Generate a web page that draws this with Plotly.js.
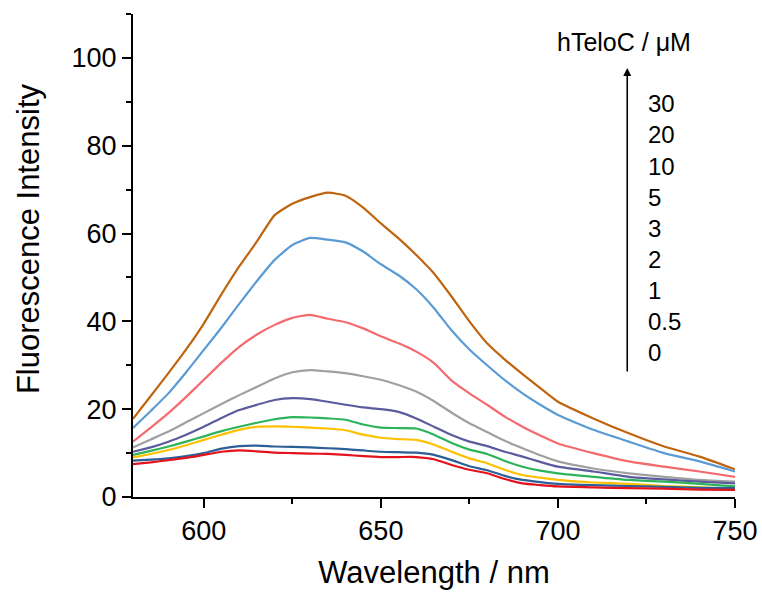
<!DOCTYPE html>
<html>
<head>
<meta charset="utf-8">
<script src="https://cdn.plot.ly/plotly-3.0.1.min.js"></script>
<style>
  html, body { margin: 0; padding: 0; background: #ffffff; }
  #chart { width: 762px; height: 593px; }
</style>
</head>
<body>
<div id="chart"></div>
<script>
// Wavelength grid (nm)
const wavelength = [580,585,590,595,600,605,610,615,620,625,630,635,640,645,650,655,660,665,670,675,680,685,690,695,700,710,720,730,740,750];

// Fluorescence intensity for each hTeloC concentration (µM)
const conc30  = [17.8,23.0,28.2,33.6,39.5,46.2,52.5,58.2,64.2,66.8,68.3,69.3,68.6,65.9,62.3,58.9,55.1,50.9,45.6,40.0,35.0,31.3,28.0,24.8,21.7,17.9,14.5,11.5,9.2,6.3];
const conc20  = [15.7,19.6,23.6,28.4,33.5,38.6,44.0,49.2,54.0,57.4,59.0,58.6,58.0,55.9,53.0,50.5,47.3,43.0,37.9,33.6,30.0,26.6,23.6,21.0,18.7,15.3,12.6,10.0,8.1,5.8];
const conc10  = [12.6,15.8,19.1,22.8,26.7,30.6,34.2,37.0,39.2,40.8,41.5,40.6,39.8,38.4,36.6,35.0,33.1,30.5,26.5,23.6,21.0,18.3,16.0,14.0,12.2,10.0,8.1,6.9,5.8,4.6];
const conc5   = [11.3,13.1,14.9,17.0,19.1,21.2,23.2,25.1,27.0,28.4,28.9,28.6,28.2,27.5,26.7,25.5,24.0,21.8,19.2,16.8,14.8,12.8,11.1,9.5,8.1,6.5,5.4,4.6,3.9,3.5];
const conc3   = [10.3,11.3,12.6,14.2,16.0,18.0,19.8,21.0,22.1,22.5,22.3,21.7,21.0,20.4,20.0,19.4,17.9,16.0,14.1,12.6,11.6,10.3,9.2,8.0,6.9,5.8,4.6,4.0,3.5,3.1];
const conc2   = [9.6,10.5,11.5,12.6,13.8,15.0,16.0,16.9,17.7,18.2,18.1,17.9,17.6,16.5,15.8,15.7,15.6,14.2,12.3,10.8,9.8,8.2,6.9,6.0,5.4,4.6,3.9,3.5,3.0,2.4];
const conc1   = [9.0,9.8,10.7,11.8,13.0,14.2,15.3,16.0,16.1,16.0,15.8,15.6,15.2,14.2,13.5,13.2,13.0,11.9,10.3,8.8,7.7,6.2,5.0,4.4,3.9,3.3,3.0,2.5,2.2,1.8];
const conc05  = [8.3,8.5,8.8,9.3,10.0,11.0,11.6,11.7,11.5,11.4,11.3,11.1,10.9,10.6,10.3,10.2,10.1,9.6,8.4,7.0,6.1,4.8,3.9,3.4,3.0,2.7,2.5,2.3,2.1,2.0];
const conc0   = [7.5,7.9,8.4,8.9,9.6,10.3,10.6,10.4,10.1,10.0,9.9,9.8,9.6,9.3,9.1,9.1,9.1,8.6,7.3,6.2,5.4,4.1,3.1,2.7,2.4,2.2,2.0,1.9,1.7,1.6];

const concLabels = ['30','20','10','5','3','2','1','0.5','0'];
const seriesData = [conc30, conc20, conc10, conc5, conc3, conc2, conc1, conc05, conc0];
const seriesColors = ['#C0650F','#5B9BD5','#F46B6E','#A0A0A0','#5B5B9E','#2DB45A','#FFC000','#2B5F96','#E3121C'];

const traces = seriesData.map((ys, i) => ({
  x: wavelength,
  y: ys,
  type: 'scatter',
  mode: 'lines',
  name: concLabels[i],
  line: { color: seriesColors[i], width: 2.2, shape: 'spline', smoothing: 0.5 },
  hoverinfo: 'skip'
}));

const FONT = 'Arial, "Liberation Sans", sans-serif';

// Annotation geometry (paper coords)
const arrowX = 0.821, arrowTopY = 0.888, arrowLenPx = 305;
const labelX = 0.852, labelTopY = 0.8137, labelStep = 0.0642;

const annotations = [
  {
    xref: 'paper', yref: 'paper', x: -0.1744, y: 0.534,
    text: 'Fluorescence Intensity', showarrow: false, textangle: -90,
    font: { family: FONT, size: 31, color: '#000' },
    xanchor: 'center', yanchor: 'middle'
  },
  {
    xref: 'paper', yref: 'paper', x: 0.8156, y: 0.9427,
    text: 'hTeloC / μM', showarrow: false,
    font: { family: FONT, size: 25, color: '#000' },
    xanchor: 'center', yanchor: 'middle'
  },
  {
    xref: 'paper', yref: 'paper', x: arrowX, y: arrowTopY,
    text: '', showarrow: true, ax: 0, ay: arrowLenPx,
    arrowhead: 2, arrowsize: 1, arrowwidth: 1.6, arrowcolor: '#000', standoff: 0
  }
];
concLabels.forEach((lab, i) => {
  annotations.push({
    xref: 'paper', yref: 'paper', x: labelX, y: labelTopY - i * labelStep,
    text: lab, showarrow: false,
    font: { family: FONT, size: 24, color: '#000' },
    xanchor: 'left', yanchor: 'middle'
  });
});

const layout = {
  width: 762, height: 593,
  margin: { l: 133, r: 27, t: 14, b: 96 },
  paper_bgcolor: '#ffffff',
  plot_bgcolor: '#ffffff',
  showlegend: false,
  font: { family: FONT, color: '#000' },
  xaxis: {
    range: [580, 750],
    dtick: 50, tick0: 600,
    showgrid: false, zeroline: false,
    showline: true, linecolor: '#000', linewidth: 2,
    ticks: 'outside', ticklen: 9, tickwidth: 2, tickcolor: '#000',
    minor: { dtick: 25, tick0: 600, ticks: 'outside', ticklen: 5, tickwidth: 2, tickcolor: '#000', showgrid: false },
    tickfont: { family: FONT, size: 27, color: '#000' },
    title: { text: 'Wavelength / nm', font: { family: FONT, size: 31, color: '#000' }, standoff: 16 }
  },
  yaxis: {
    range: [0, 110],
    dtick: 20, tick0: 0,
    showgrid: false, zeroline: false,
    showline: true, linecolor: '#000', linewidth: 2,
    ticks: 'outside', ticklen: 9, tickwidth: 2, tickcolor: '#000',
    minor: { dtick: 10, tick0: 0, ticks: 'outside', ticklen: 5, tickwidth: 2, tickcolor: '#000', showgrid: false },
    tickfont: { family: FONT, size: 27, color: '#000' }
  },
  annotations: annotations
};

Plotly.newPlot('chart', traces, layout, { displayModeBar: false, staticPlot: true });
</script>
</body>
</html>
